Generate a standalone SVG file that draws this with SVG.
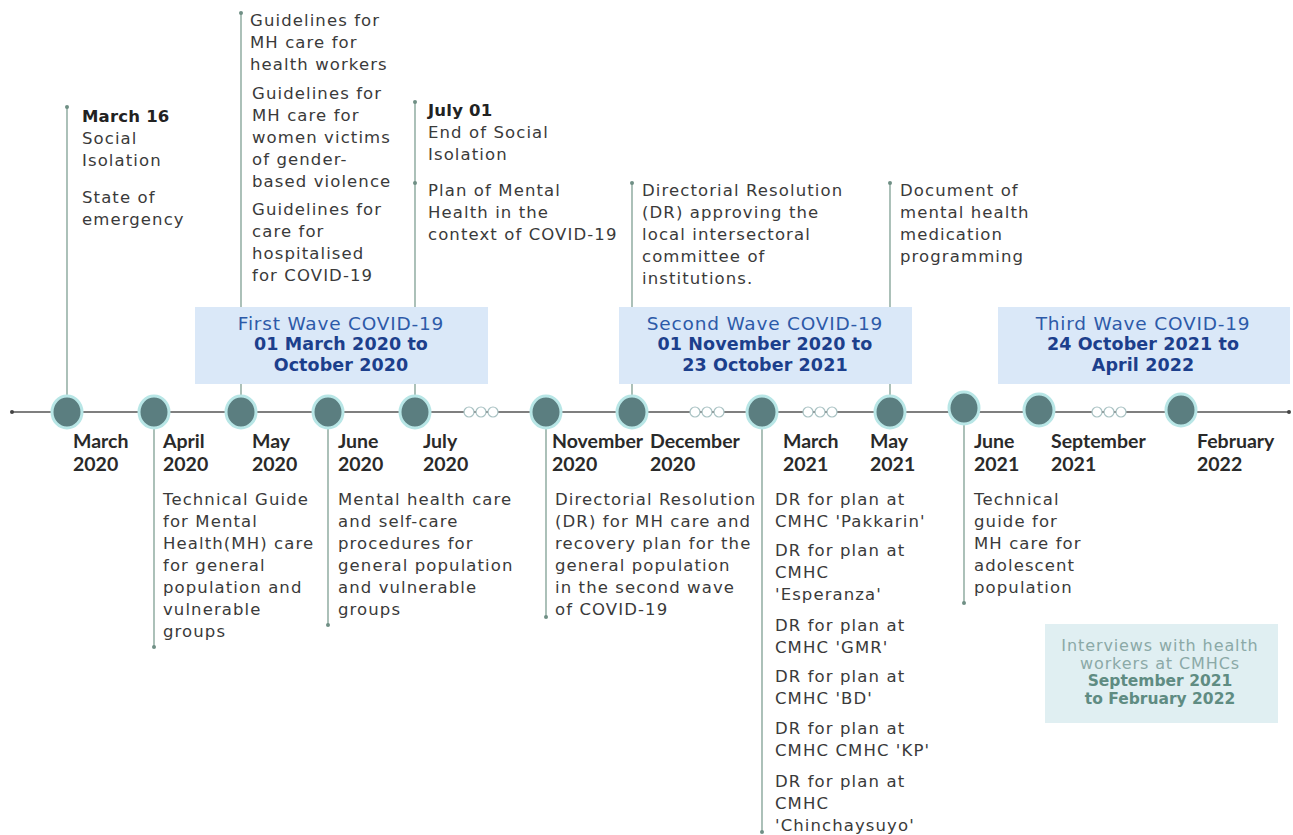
<svg xmlns="http://www.w3.org/2000/svg" width="1293" height="835" viewBox="0 0 1293 835">
<style>
.t{font-family:"DejaVu Sans","Open Sans",sans-serif;font-size:16.5px;letter-spacing:1.1px;fill:#3a3a3a}
.tb{font-family:"DejaVu Sans","Open Sans",sans-serif;font-size:16.5px;letter-spacing:0.2px;font-weight:bold;fill:#222}
.lbl{font-family:Lato,"Liberation Sans",sans-serif;font-size:19.5px;font-weight:bold;fill:#2a2a2a}
.wv{font-family:"DejaVu Sans","Open Sans",sans-serif;font-size:18.5px;letter-spacing:0.8px;fill:#2d5aa8;text-anchor:middle}
.wvb{font-family:"DejaVu Sans","Open Sans",sans-serif;font-size:17.5px;letter-spacing:0.1px;font-weight:bold;fill:#1c3f8c;text-anchor:middle}
.iv{font-family:"DejaVu Sans","Open Sans",sans-serif;font-size:16px;letter-spacing:0.9px;fill:#8ba9a7;text-anchor:middle}
.ivb{font-family:"DejaVu Sans","Open Sans",sans-serif;font-size:15.5px;font-weight:bold;fill:#5f8c82;text-anchor:middle}
.box{fill:#dae8f8}
.node{fill:#5b7e80;stroke:#b8e6e6;stroke-width:3}
.stem{stroke:#7f9f93;stroke-width:1.3;fill:none}
.dot{fill:#6f8f85}
.gap{fill:#fff;stroke:#a9c2c3;stroke-width:1.2}
</style>

<g id="connectors">
  <line x1="12" y1="412" x2="1289" y2="412" stroke="#555" stroke-width="1.5"/>
  <circle cx="12" cy="412" r="2" fill="#444"/>
  <circle cx="1289" cy="412" r="2" fill="#444"/>
  <line class="stem" x1="67" y1="107" x2="67" y2="400"/><circle class="dot" cx="67" cy="107" r="2"/>
  <line class="stem" x1="241" y1="13" x2="241" y2="400"/><circle class="dot" cx="241" cy="13" r="2"/>
  <line class="stem" x1="415" y1="102" x2="415" y2="400"/><circle class="dot" cx="415" cy="102" r="2"/><circle class="dot" cx="415" cy="183" r="2"/>
  <line class="stem" x1="632" y1="183" x2="632" y2="400"/><circle class="dot" cx="632" cy="183" r="2"/>
  <line class="stem" x1="890" y1="183" x2="890" y2="400"/><circle class="dot" cx="890" cy="183" r="2"/>
  <line class="stem" x1="154" y1="425" x2="154" y2="647"/><circle class="dot" cx="154" cy="647" r="2"/>
  <line class="stem" x1="328" y1="425" x2="328" y2="625"/><circle class="dot" cx="328" cy="625" r="2"/>
  <line class="stem" x1="546" y1="425" x2="546" y2="617"/><circle class="dot" cx="546" cy="617" r="2"/>
  <line class="stem" x1="762" y1="425" x2="762" y2="832"/><circle class="dot" cx="762" cy="832" r="2"/>
  <line class="stem" x1="964" y1="425" x2="964" y2="603"/><circle class="dot" cx="964" cy="603" r="2"/>
  <g id="gap1"><circle class="gap" cx="469" cy="412" r="5"/><circle class="gap" cx="481" cy="412" r="5"/><circle class="gap" cx="493" cy="412" r="5"/></g>
  <g id="gap2"><circle class="gap" cx="695" cy="412" r="5"/><circle class="gap" cx="707" cy="412" r="5"/><circle class="gap" cx="719" cy="412" r="5"/></g>
  <g id="gap3"><circle class="gap" cx="808" cy="412" r="5"/><circle class="gap" cx="820" cy="412" r="5"/><circle class="gap" cx="832" cy="412" r="5"/></g>
  <g id="gap4"><circle class="gap" cx="1097" cy="412" r="5"/><circle class="gap" cx="1109" cy="412" r="5"/><circle class="gap" cx="1121" cy="412" r="5"/></g>
</g>

<g id="wave1"><rect class="box" x="195" y="307" width="293" height="77"/>
  <text class="wv" x="341" y="330">First Wave COVID-19</text>
  <text class="wvb" x="341" y="350">01 March 2020 to</text>
  <text class="wvb" x="341" y="371">October 2020</text></g>
<g id="wave2"><rect class="box" x="619" y="307" width="293" height="77"/>
  <text class="wv" x="765" y="330">Second Wave COVID-19</text>
  <text class="wvb" x="765" y="350">01 November 2020 to</text>
  <text class="wvb" x="765" y="371">23 October 2021</text></g>
<g id="wave3"><rect class="box" x="998" y="307" width="292" height="77"/>
  <text class="wv" x="1143" y="330">Third Wave COVID-19</text>
  <text class="wvb" x="1143" y="350">24 October 2021 to</text>
  <text class="wvb" x="1143" y="371">April 2022</text></g>

<g id="n-mar2020"><ellipse class="node" cx="67" cy="412" rx="15" ry="16"/>
  <text class="lbl" x="73" y="448">March</text><text class="lbl" x="73" y="471">2020</text>
  <text class="tb" x="82" y="122">March 16</text>
  <text class="t" x="82" y="144">Social</text><text class="t" x="82" y="166">Isolation</text>
  <text class="t" x="82" y="203">State of</text><text class="t" x="82" y="225">emergency</text></g>

<g id="n-apr2020"><ellipse class="node" cx="154" cy="412" rx="15" ry="16"/>
  <text class="lbl" x="163" y="448">April</text><text class="lbl" x="163" y="471">2020</text>
  <text class="t" x="163" y="505">Technical Guide</text><text class="t" x="163" y="527">for Mental</text>
  <text class="t" x="163" y="549">Health(MH) care</text><text class="t" x="163" y="571">for general</text>
  <text class="t" x="163" y="593">population and</text><text class="t" x="163" y="615">vulnerable</text>
  <text class="t" x="163" y="637">groups</text></g>

<g id="n-may2020"><ellipse class="node" cx="241" cy="412" rx="15" ry="16"/>
  <text class="lbl" x="252" y="448">May</text><text class="lbl" x="252" y="471">2020</text>
  <text class="t" x="250" y="26">Guidelines for</text><text class="t" x="250" y="48">MH care for</text>
  <text class="t" x="250" y="70">health workers</text>
  <text class="t" x="252" y="99">Guidelines for</text><text class="t" x="252" y="121">MH care for</text>
  <text class="t" x="252" y="143">women victims</text><text class="t" x="252" y="165">of gender-</text>
  <text class="t" x="252" y="187">based violence</text>
  <text class="t" x="252" y="215">Guidelines for</text><text class="t" x="252" y="237">care for</text>
  <text class="t" x="252" y="259">hospitalised</text><text class="t" x="252" y="281">for COVID-19</text></g>

<g id="n-jun2020"><ellipse class="node" cx="328" cy="412" rx="15" ry="16"/>
  <text class="lbl" x="338" y="448">June</text><text class="lbl" x="338" y="471">2020</text>
  <text class="t" x="338" y="505">Mental health care</text><text class="t" x="338" y="527">and self-care</text>
  <text class="t" x="338" y="549">procedures for</text><text class="t" x="338" y="571">general population</text>
  <text class="t" x="338" y="593">and vulnerable</text><text class="t" x="338" y="615">groups</text></g>

<g id="n-jul2020"><ellipse class="node" cx="415" cy="412" rx="15" ry="16"/>
  <text class="lbl" x="423" y="448">July</text><text class="lbl" x="423" y="471">2020</text>
  <text class="tb" x="428" y="116">July 01</text>
  <text class="t" x="428" y="138">End of Social</text><text class="t" x="428" y="160">Isolation</text>
  <text class="t" x="428" y="196">Plan of Mental</text><text class="t" x="428" y="218">Health in the</text>
  <text class="t" x="428" y="240">context of COVID-19</text></g>

<g id="n-nov2020"><ellipse class="node" cx="546" cy="412" rx="15" ry="16"/>
  <text class="lbl" x="552" y="448">November</text><text class="lbl" x="552" y="471">2020</text>
  <text class="t" x="555" y="505">Directorial Resolution</text><text class="t" x="555" y="527">(DR) for MH care and</text>
  <text class="t" x="555" y="549">recovery plan for the</text><text class="t" x="555" y="571">general population</text>
  <text class="t" x="555" y="593">in the second wave</text><text class="t" x="555" y="615">of COVID-19</text></g>

<g id="n-dec2020"><ellipse class="node" cx="632" cy="412" rx="15" ry="16"/>
  <text class="lbl" x="650" y="448">December</text><text class="lbl" x="650" y="471">2020</text>
  <text class="t" x="642" y="196">Directorial Resolution</text><text class="t" x="642" y="218">(DR) approving the</text>
  <text class="t" x="642" y="240">local intersectoral</text><text class="t" x="642" y="262">committee of</text>
  <text class="t" x="642" y="284">institutions.</text></g>

<g id="n-mar2021"><ellipse class="node" cx="762" cy="412" rx="15" ry="16"/>
  <text class="lbl" x="783" y="448">March</text><text class="lbl" x="783" y="471">2021</text>
  <text class="t" x="775" y="505">DR for plan at</text><text class="t" x="775" y="527">CMHC 'Pakkarin'</text>
  <text class="t" x="775" y="556">DR for plan at</text><text class="t" x="775" y="578">CMHC</text>
  <text class="t" x="775" y="600">'Esperanza'</text>
  <text class="t" x="775" y="631">DR for plan at</text><text class="t" x="775" y="653">CMHC 'GMR'</text>
  <text class="t" x="775" y="682">DR for plan at</text><text class="t" x="775" y="704">CMHC 'BD'</text>
  <text class="t" x="775" y="734">DR for plan at</text><text class="t" x="775" y="756">CMHC CMHC 'KP'</text>
  <text class="t" x="775" y="787">DR for plan at</text><text class="t" x="775" y="809">CMHC</text>
  <text class="t" x="775" y="831">'Chinchaysuyo'</text></g>

<g id="n-may2021"><ellipse class="node" cx="890" cy="412" rx="15" ry="16"/>
  <text class="lbl" x="870" y="448">May</text><text class="lbl" x="870" y="471">2021</text>
  <text class="t" x="900" y="196">Document of</text><text class="t" x="900" y="218">mental health</text>
  <text class="t" x="900" y="240">medication</text><text class="t" x="900" y="262">programming</text></g>

<g id="n-jun2021"><ellipse class="node" cx="964" cy="408" rx="15" ry="16"/>
  <text class="lbl" x="974" y="448">June</text><text class="lbl" x="974" y="471">2021</text>
  <text class="t" x="974" y="505">Technical</text><text class="t" x="974" y="527">guide for</text>
  <text class="t" x="974" y="549">MH care for</text><text class="t" x="974" y="571">adolescent</text>
  <text class="t" x="974" y="593">population</text></g>

<g id="n-sep2021"><ellipse class="node" cx="1039" cy="410" rx="15" ry="16"/>
  <text class="lbl" x="1051" y="448">September</text><text class="lbl" x="1051" y="471">2021</text></g>

<g id="n-feb2022"><ellipse class="node" cx="1181" cy="410" rx="15" ry="16"/>
  <text class="lbl" x="1197" y="448">February</text><text class="lbl" x="1197" y="471">2022</text></g>

<g id="interviews"><rect x="1045" y="624" width="233" height="99" fill="#e0eff2"/>
  <text class="iv" x="1160" y="651">Interviews with health</text>
  <text class="iv" x="1160" y="669">workers at CMHCs</text>
  <text class="ivb" x="1160" y="686">September 2021</text>
  <text class="ivb" x="1160" y="704">to February 2022</text></g>
</svg>
